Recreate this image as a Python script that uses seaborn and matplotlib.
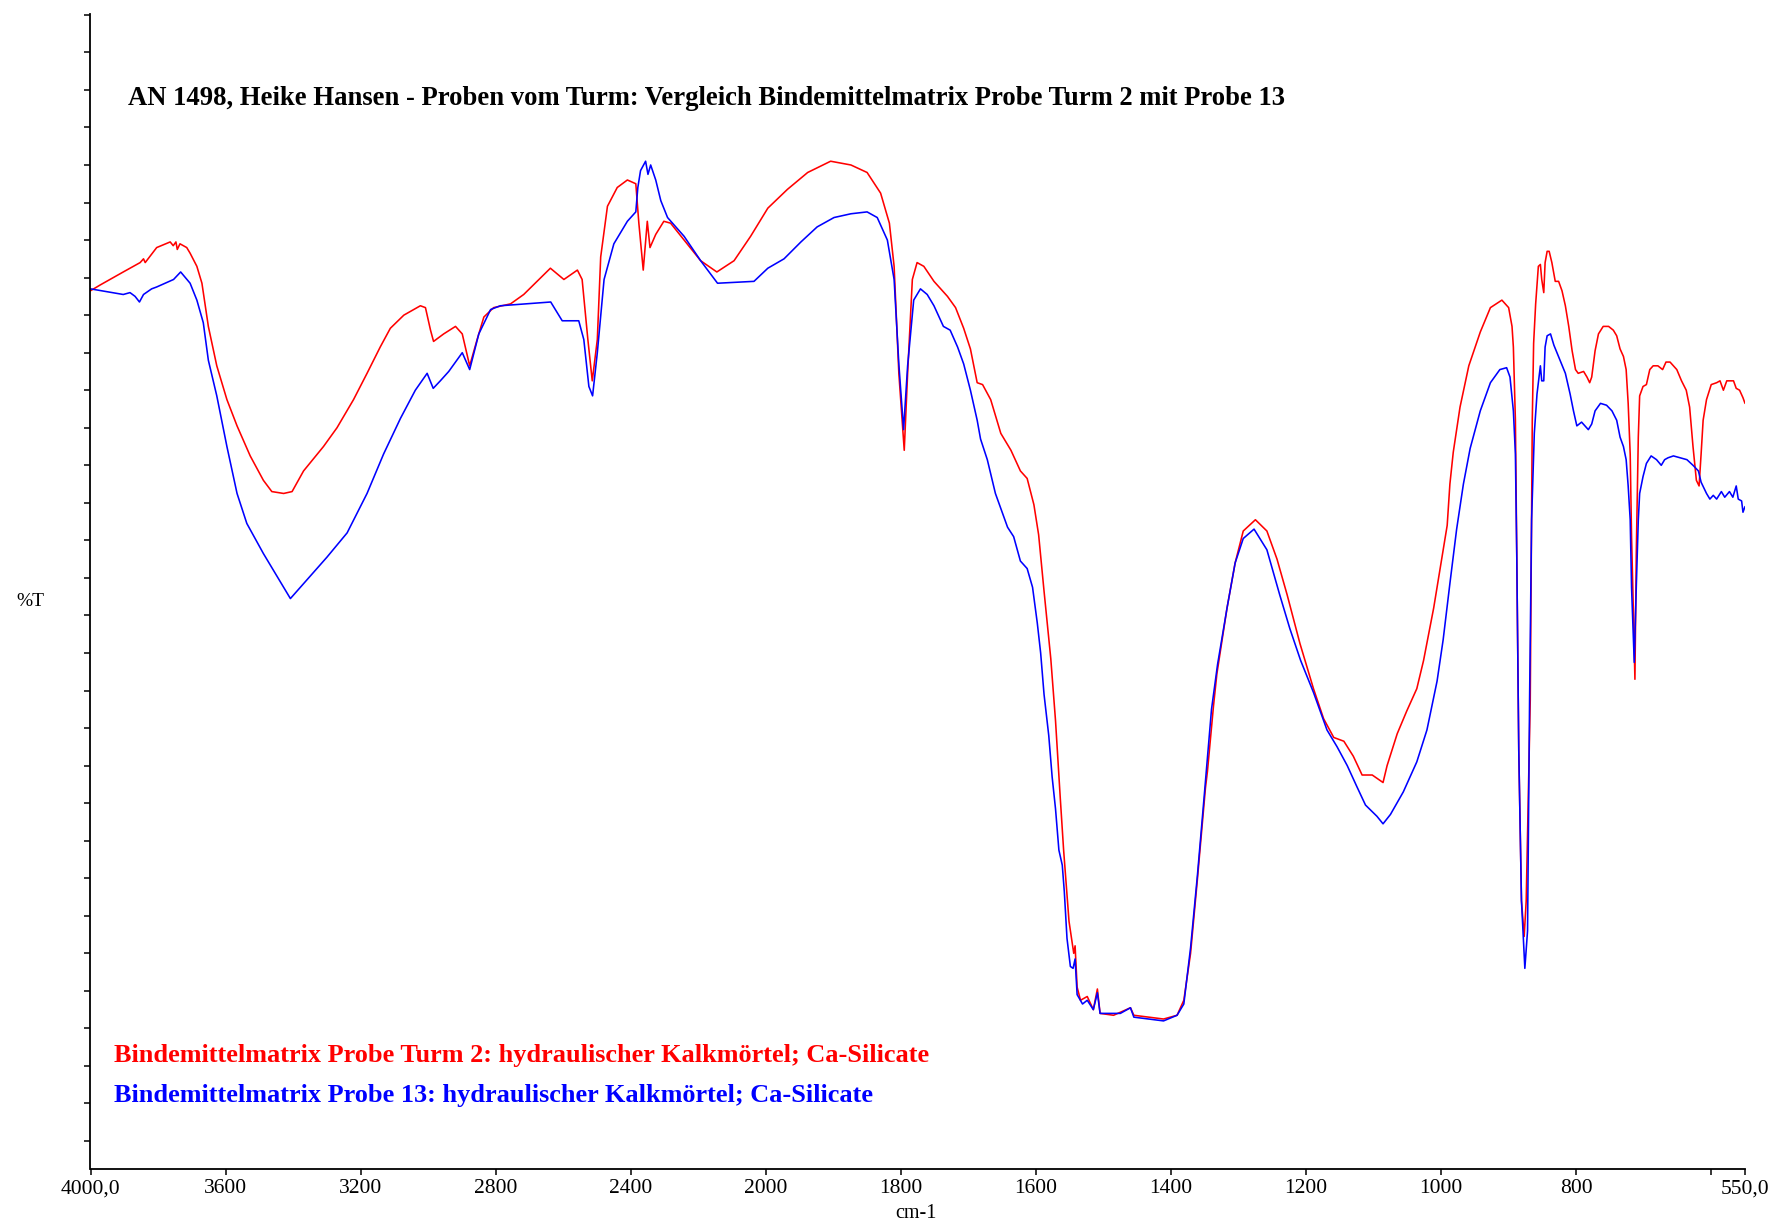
import numpy as np
import pandas as pd
import matplotlib
matplotlib.use("Agg")
import matplotlib.pyplot as plt
import seaborn as sns

# ---- spectrum data (wavenumber in cm-1, transmittance in %T) ----
turm2_wn = [4000, 3972, 3903, 3853, 3843, 3838, 3804, 3764, 3755, 3747, 3743, 3735, 3715,
            3705, 3685, 3670, 3651, 3626, 3596, 3566, 3527, 3488, 3463, 3428, 3403, 3369,
            3310, 3270, 3221, 3181, 3142, 3112, 3072, 3023, 3008, 2993, 2984, 2954, 2919,
            2899, 2877, 2855, 2835, 2806, 2756, 2717, 2638, 2598, 2558, 2544, 2527, 2514,
            2499, 2489, 2469, 2440, 2410, 2385, 2376, 2363, 2351, 2343, 2326, 2302, 2282,
            2242, 2193, 2145, 2094, 2045, 1997, 1968, 1938, 1904, 1874, 1850, 1830, 1817,
            1810, 1803, 1795, 1790, 1783, 1776, 1766, 1751, 1731, 1719, 1707, 1697, 1687,
            1679, 1667, 1652, 1637, 1623, 1613, 1603, 1596, 1588, 1578, 1571, 1564, 1559,
            1551, 1544, 1542, 1539, 1534, 1524, 1515, 1509, 1505, 1485, 1460, 1455, 1411,
            1391, 1381, 1371, 1361, 1349, 1346, 1337, 1332, 1317, 1305, 1293, 1275, 1258,
            1243, 1228, 1209, 1189, 1174, 1159, 1144, 1130, 1117, 1102, 1086, 1080, 1065,
            1051, 1036, 1026, 1011, 1001, 991, 987, 982, 972, 959, 942, 927, 910, 900, 895,
            893, 890, 888, 885, 881, 877, 874, 871, 868, 865, 863, 860, 856, 853, 851, 848,
            846, 843, 840, 836, 831, 826, 821, 816, 811, 806, 801, 797, 789, 784, 780, 777,
            772, 767, 760, 752, 745, 740, 735, 730, 726, 723, 720, 718, 715, 713, 711, 708,
            706, 701, 696, 691, 686, 679, 672, 667, 661, 651, 644, 637, 632, 627, 622, 618,
            615, 612, 607, 600, 592, 587, 582, 577, 567, 563, 558, 553, 550]
turm2_t = [45.3, 45.6, 46.3, 46.8, 47.0, 46.8, 47.6, 47.9, 47.7, 47.9, 47.5, 47.8, 47.6,
           47.3, 46.6, 45.7, 43.4, 41.3, 39.5, 38.1, 36.5, 35.2, 34.6, 34.5, 34.6, 35.7,
           37.0, 38.0, 39.5, 40.9, 42.3, 43.3, 44.0, 44.5, 44.4, 43.2, 42.6, 43.0, 43.4,
           43.0, 41.3, 42.7, 43.9, 44.4, 44.6, 45.1, 46.5, 45.9, 46.4, 45.9, 42.7, 40.5,
           42.7, 47.1, 49.8, 50.8, 51.2, 51.0, 48.9, 46.4, 49.0, 47.6, 48.3, 49.0, 48.9,
           48.0, 46.9, 46.3, 46.9, 48.2, 49.7, 50.7, 51.6, 52.2, 52.0, 51.6, 50.5, 48.9,
           46.6, 40.9, 36.8, 40.9, 45.9, 46.8, 46.6, 45.8, 45.0, 44.4, 43.3, 42.2, 40.4,
           40.3, 39.5, 37.7, 36.8, 35.7, 35.3, 33.9, 32.3, 29.3, 25.7, 22.4, 18.3, 15.5,
           11.7, 10.0, 10.4, 8.2, 7.5, 7.7, 7.0, 8.1, 6.8, 6.7, 7.1, 6.7, 6.5,
           6.7, 7.5, 10.0, 13.9, 18.8, 19.7, 23.2, 24.9, 28.4, 30.8, 32.5, 33.1, 32.5,
           31.0, 29.1, 26.5, 24.1, 22.5, 21.5, 21.3, 20.5, 19.5, 19.5, 19.1, 20.0, 21.7,
           22.9, 24.1, 25.6, 28.4, 30.6, 32.8, 35.0, 36.7, 39.1, 41.3, 43.1, 44.4, 44.8, 44.4, 43.4,
           42.3, 38.4, 31.3, 20.8, 12.8, 10.9, 12.8, 18.2, 23.5, 38.4, 42.5, 44.6, 46.6, 46.7, 45.9, 45.2,
           46.8, 47.4, 47.4, 46.8, 45.8, 45.8, 45.3, 44.5, 43.4, 42.1, 41.1, 40.9, 41.0, 40.7, 40.4, 40.7,
           42.1, 43.0, 43.4, 43.4, 43.2, 42.9, 42.2, 41.8, 41.1, 39.3, 36.6, 32.2, 27.8, 24.6, 31.3, 37.5,
           39.7, 40.2, 40.3, 41.1, 41.3, 41.3, 41.1, 41.5, 41.5, 41.1, 40.5, 40.0, 39.1, 37.0, 35.2, 34.9,
           36.6, 38.4, 39.5, 40.3, 40.4, 40.5, 40.0, 40.5, 40.5, 40.1, 40.0, 39.6, 39.3]

probe13_wn = [4000, 3903, 3883, 3868, 3855, 3843, 3819, 3804, 3754, 3733, 3705, 3685, 3666,
              3651, 3626, 3596, 3566, 3537, 3488, 3448, 3408, 3369, 3300, 3240, 3181, 3132,
              3082, 3038, 3003, 2985, 2964, 2939, 2899, 2877, 2850, 2815, 2786, 2637, 2603,
              2554, 2539, 2524, 2513, 2499, 2479, 2450, 2410, 2385, 2379, 2371, 2356, 2349,
              2341, 2326, 2311, 2291, 2242, 2193, 2143, 2035, 1997, 1973, 1948, 1924, 1899,
              1874, 1850, 1835, 1820, 1810, 1803, 1796, 1790, 1781, 1771, 1761, 1751, 1737,
              1727, 1716, 1707, 1697, 1687, 1682, 1672, 1660, 1652, 1642, 1633, 1623, 1613,
              1605, 1598, 1593, 1588, 1581, 1576, 1571, 1566, 1561, 1558, 1554, 1549, 1545,
              1542, 1539, 1531, 1524, 1515, 1509, 1505, 1475, 1460, 1455, 1411, 1391, 1381,
              1371, 1361, 1351, 1340, 1331, 1317, 1305, 1293, 1277, 1258, 1239, 1224, 1208,
              1189, 1169, 1154, 1139, 1125, 1112, 1095, 1086, 1075, 1056, 1036, 1021, 1006,
              997, 987, 977, 967, 957, 942, 927, 913, 903, 898, 893, 890, 888, 885, 881, 876,
              872, 869, 866, 862, 858, 853, 851, 848, 846, 843, 838, 833, 824, 816, 809, 804,
              799, 792, 787, 782, 777, 772, 764, 755, 747, 740, 735, 730, 726, 723, 720, 718,
              714, 711, 708, 706, 701, 696, 689, 681, 674, 669, 664, 656, 646, 636, 627, 619,
              615, 607, 602, 597, 592, 585, 580, 573, 568, 563, 560, 555, 553, 550]
probe13_t = [45.4, 45.1, 45.2, 45.0, 44.7, 45.1, 45.4, 45.5, 45.9, 46.3, 45.7, 44.8, 43.6,
             41.6, 39.7, 37.0, 34.5, 32.9, 31.3, 30.1, 28.9, 29.7, 31.1, 32.4, 34.5, 36.6,
             38.5, 40.0, 40.9, 40.1, 40.5, 41.0, 42.0, 41.1, 43.0, 44.3, 44.5, 44.7, 43.7,
             43.7, 42.7, 40.2, 39.7, 42.0, 45.9, 47.8, 49.0, 49.5, 50.8, 51.7, 52.2, 51.5,
             52.0, 51.2, 50.1, 49.2, 48.2, 46.9, 45.7, 45.8, 46.5, 47.0, 47.9, 48.7, 49.2,
             49.4, 49.5, 49.2, 48.0, 45.9, 41.4, 37.9, 41.3, 44.8, 45.4, 45.1, 44.5, 43.4,
             43.2, 42.3, 41.4, 40.0, 38.4, 37.4, 36.3, 34.5, 33.7, 32.7, 32.2, 30.9, 30.5,
             29.5, 27.6, 26.0, 23.8, 21.6, 19.4, 17.7, 15.5, 14.7, 13.3, 10.8, 9.3, 9.2,
             9.7, 7.8, 7.3, 7.5, 7.0, 7.9, 6.8, 6.8, 7.1, 6.6, 6.4, 6.7, 7.3,
             10.3, 14.1, 18.3, 23.0, 25.4, 28.4, 30.8, 32.1, 32.6, 31.5, 29.1, 27.3, 25.6,
             23.9, 21.9, 21.0, 20.0, 18.9, 17.9, 17.3, 16.9, 17.4, 18.6, 20.2, 21.9, 24.5,
             26.7, 29.7, 32.6, 35.0, 36.9, 38.9, 40.4, 41.1, 41.2, 40.7, 38.9, 36.6, 31.3, 20.8, 12.8, 9.2,
             11.2, 23.5, 33.1, 37.7, 39.8, 41.3, 40.5, 40.5, 42.3, 42.9, 43.0, 42.4, 41.6, 40.9, 39.8, 38.9,
             38.1, 38.3, 38.1, 37.9, 38.2, 38.9, 39.3, 39.2, 38.9, 38.4, 37.5, 37.0, 36.3, 34.9, 33.1, 29.5,
             25.5, 29.5, 33.1, 34.5, 35.4, 36.1, 36.5, 36.3, 36.0, 36.3, 36.4, 36.5, 36.4, 36.3, 36.0, 35.7,
             35.1, 34.5, 34.2, 34.4, 34.2, 34.6, 34.3, 34.6, 34.3, 34.9, 34.2, 34.1, 33.5, 33.8]

tick_wn = [4000, 3600, 3200, 2800, 2400, 2000, 1800, 1600, 1400, 1200, 1000, 800, 600, 550]
tick_text = ["4000,0", "3600", "3200", "2800", "2400", "2000", "1800", "1600", "1400",
             "1200", "1000", "800", "", "550,0"]

title = "AN 1498, Heike Hansen - Proben vom Turm: Vergleich Bindemittelmatrix Probe Turm 2 mit Probe 13"
label_turm2 = "Bindemittelmatrix Probe Turm 2: hydraulischer Kalkmörtel; Ca-Silicate"
label_probe13 = "Bindemittelmatrix Probe 13: hydraulischer Kalkmörtel; Ca-Silicate"

# ---- style ----
sns.set_style("ticks")
plt.rcParams["font.family"] = ["Liberation Serif", "DejaVu Serif"]

W, H = 1774, 1224
fig = plt.figure(figsize=(W / 100, H / 100), dpi=100)
ax = fig.add_axes([90.5 / W, 1 - 1169 / H, (1745 - 90.5) / W, (1169 - 13.5) / H])


# x axis compressed by 2 above 2000 cm-1 (usual FTIR scale change)
def fwd(x):
    x = np.asarray(x, dtype=float)
    return np.where(x <= 2000, x, 2000 + (x - 2000) / 2.0)


def inv(u):
    u = np.asarray(u, dtype=float)
    return np.where(u <= 2000, u, 2000 + (u - 2000) * 2.0)


ax.set_xscale("function", functions=(fwd, inv))

df_a = pd.DataFrame({"wn": turm2_wn, "T": turm2_t})
df_b = pd.DataFrame({"wn": probe13_wn, "T": probe13_t})

sns.lineplot(data=df_a, x="wn", y="T", ax=ax, color="#ff0000", linewidth=1.15,
             estimator=None, errorbar=None)
sns.lineplot(data=df_b, x="wn", y="T", ax=ax, color="#0000ff", linewidth=1.15,
             estimator=None, errorbar=None)

ax.set_xlim(4000, 550)
ax.set_ylim(-1.49, 60.07)
ax.set_xticks(tick_wn)
ax.set_xticklabels(tick_text)
ax.xaxis.set_minor_locator(matplotlib.ticker.NullLocator())
ax.set_yticks(np.arange(0, 61, 2))
ax.set_yticklabels([])
ax.yaxis.set_minor_locator(matplotlib.ticker.NullLocator())
ax.set_xlabel("")
ax.set_ylabel("")

sns.despine(ax=ax)
for side in ("left", "bottom"):
    ax.spines[side].set_linewidth(1.3)
    ax.spines[side].set_color("black")
ax.tick_params(axis="both", direction="out", length=4, width=1.1, color="black")
ax.tick_params(axis="x", labelsize=15.5, pad=3.5, labelcolor="black")

fig.text(128 / W, 1 - 98.4 / H, title, ha="left", va="center",
         fontsize=19.2, fontweight="bold", color="black")
fig.text(114.3 / W, 1 - 1055.6 / H, label_turm2, ha="left", va="center",
         fontsize=18.9, fontweight="bold", color="#ff0000")
fig.text(114.3 / W, 1 - 1095.2 / H, label_probe13, ha="left", va="center",
         fontsize=18.9, fontweight="bold", color="#0000ff")
fig.text(30.5 / W, 1 - 601 / H, "%T", ha="center", va="center", fontsize=14, color="black")
fig.text(916 / W, 1 - 1214 / H, "cm-1", ha="center", va="center", fontsize=14.5, color="black")

fig.savefig("out.png", dpi=100, facecolor="white")
